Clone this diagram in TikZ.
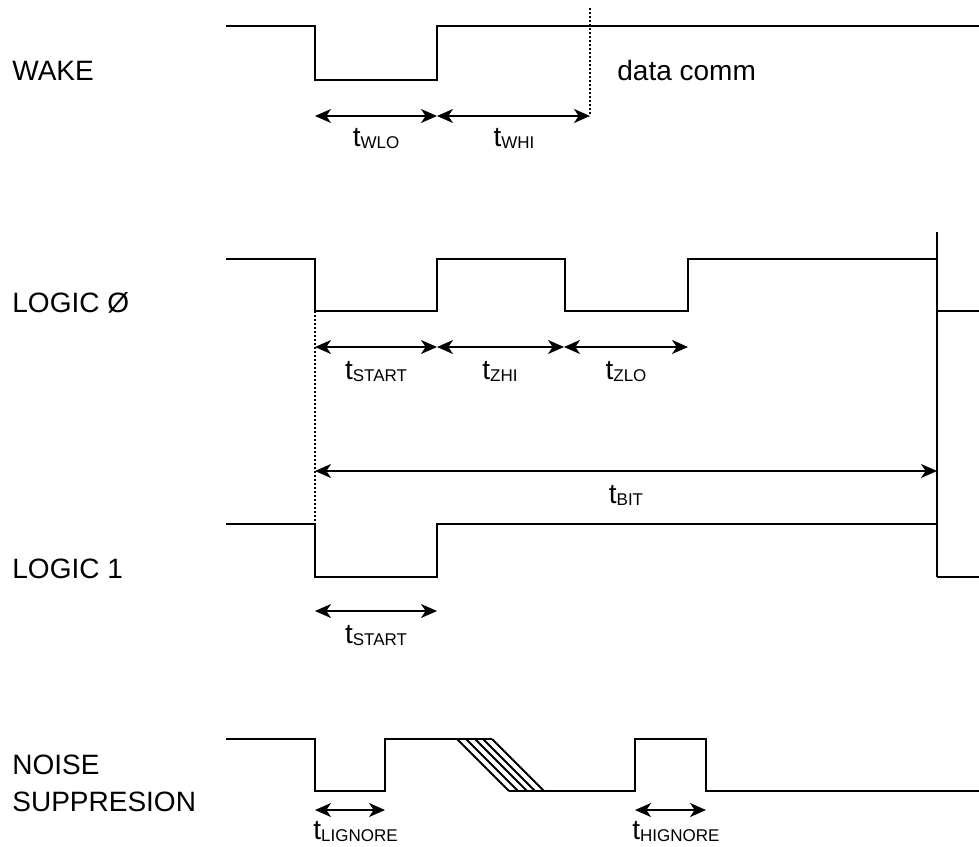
\documentclass[tikz,border=0pt]{standalone}
\usepackage{fontspec}
\setmainfont{Liberation Sans}
\usetikzlibrary{arrows.meta}
\newcommand{\tsub}[1]{t\raisebox{-1.3pt}{\fontsize{8.5}{8.5}\selectfont #1}}
\tikzset{
  wave/.style={line width=0.9pt, line join=miter},
  span/.style={line width=0.9pt, {Stealth[length=8pt,width=7pt,inset=2.3pt]}-{Stealth[length=8pt,width=7pt,inset=2.3pt]}},
  tick/.style={line width=0.8pt, dash pattern=on 0.8pt off 1.2pt},
  sig/.style={anchor=base west, inner sep=0pt, font=\fontsize{14}{18}\selectfont},
  tlab/.style={anchor=base, inner sep=0pt, font=\fontsize{14}{14}\selectfont},
  tlabw/.style={anchor=base west, inner sep=0pt, font=\fontsize{14}{14}\selectfont},
}
\begin{document}
\begin{tikzpicture}[x=0.5pt,y=-0.5pt]
  \useasboundingbox (0,0) rectangle (979,846);

  % signal names
  \node[sig] (wake)   at (12,80)  {WAKE};
  \node[sig] (logicz) at (12,312) {LOGIC Ø};
  \node[sig] (logico) at (12,578) {LOGIC 1};
  \node[sig] (noise)  at (12,774) {NOISE};
  \node[sig] (suppr)  at (12,811) {SUPPRESION};

  % WAKE
  \draw[wave] (226,26) -- (315,26) -- (315,80) -- (437,80) -- (437,26) -- (979,26);
  \coordinate (w0) at (315,116);
  \coordinate (w1) at (437,116);
  \coordinate (w2) at (590,116);
  \coordinate (wtop) at (590,8);
  \draw[tick] (wtop) -- (w2);
  \draw[span] (w0) -- (w1);
  \draw[span] (w1) -- (w2);
  \node[tlab] (twlo) at (376,146) {\tsub{WLO}};
  \node[tlab] (twhi) at (514,146) {\tsub{WHI}};
  \node[anchor=base west, inner sep=0pt, font=\fontsize{14}{14}\selectfont] (comm) at (617,80) {data comm};

  % LOGIC 0
  \draw[wave] (226,259) -- (315,259) -- (315,311) -- (437,311) -- (437,259) -- (565,259)
              -- (565,311) -- (688,311) -- (688,259) -- (937,259);
  \draw[wave] (937,311) -- (979,311);
  \draw[wave] (937,232) -- (937,577);
  \coordinate (z0) at (315,347);
  \coordinate (z1) at (437,347);
  \coordinate (z2) at (564,347);
  \coordinate (z3) at (688,347);
  \draw[span] (z0) -- (z1);
  \draw[span] (z1) -- (z2);
  \draw[span] (z2) -- (z3);
  \node[tlab] (tstartz) at (376,379) {\tsub{START}};
  \node[tlab] (tzhi) at (500,379) {\tsub{ZHI}};
  \node[tlab] (tzlo) at (626,379) {\tsub{ZLO}};
  %
  \coordinate (b0) at (315,471);
  \coordinate (b1) at (937,471);
  \draw[tick] (315,311) -- (315,524);
  \draw[span] (b0) -- (b1);
  \node[tlab] (tbit) at (626,503) {\tsub{BIT}};

  % LOGIC 1
  \draw[wave] (226,524) -- (315,524) -- (315,577) -- (437,577) -- (437,524) -- (937,524);
  \draw[wave] (937,577) -- (979,577);
  \coordinate (o0) at (315,611);
  \coordinate (o1) at (437,611);
  \draw[span] (o0) -- (o1);
  \node[tlab] (tstarto) at (376,643) {\tsub{START}};

  % NOISE SUPPRESION
  \draw[wave] (226,739) -- (315,739) -- (315,791) -- (385,791) -- (385,739) -- (492,739);
  \foreach \dx in {0,9,18,26,35}
    \draw[wave] (457+\dx,739) -- (509+\dx,791);
  \draw[wave] (509,791) -- (635,791) -- (635,739) -- (706,739) -- (706,791) -- (979,791);
  \coordinate (n0) at (315,810);
  \coordinate (n1) at (385,810);
  \coordinate (n2) at (635,810);
  \coordinate (n3) at (706,810);
  \draw[span] (n0) -- (n1);
  \draw[span] (n2) -- (n3);
  \node[tlabw] (tlign) at (313,839) {\tsub{LIGNORE}};
  \node[tlabw] (thign) at (632,839) {\tsub{HIGNORE}};

\end{tikzpicture}
\end{document}
